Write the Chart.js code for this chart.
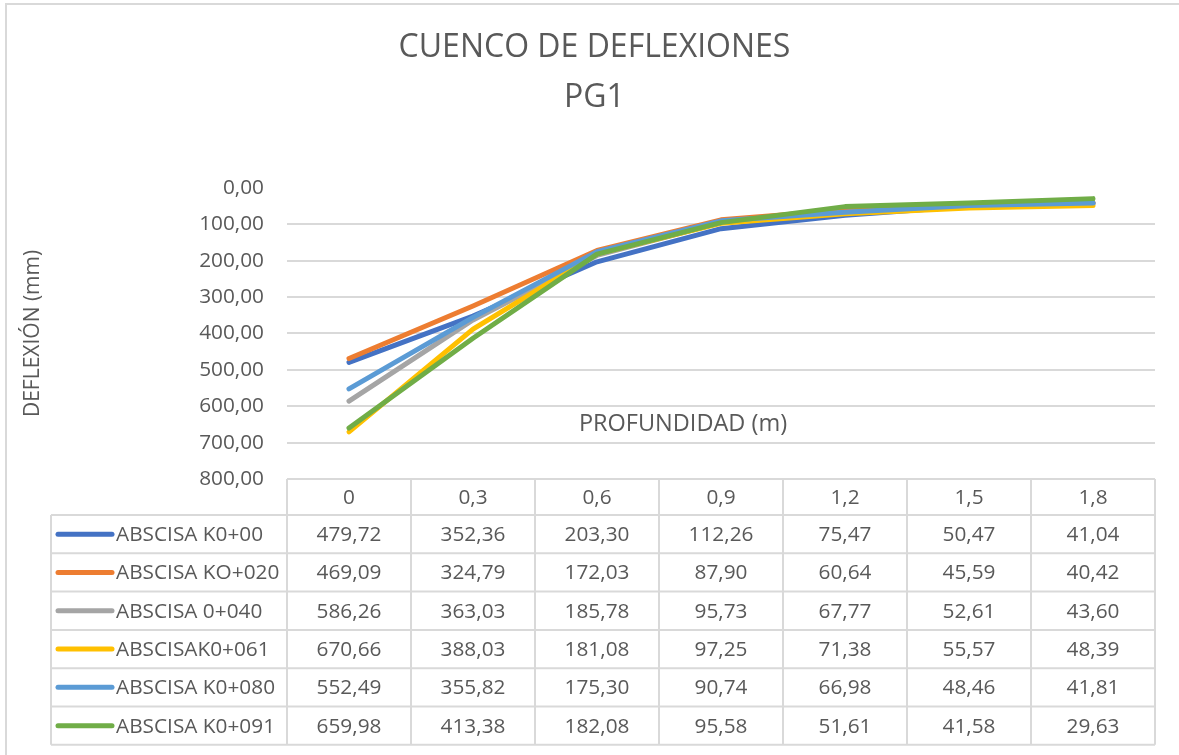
<!DOCTYPE html>
<html>
<head>
<meta charset="utf-8">
<script src="https://cdn.jsdelivr.net/npm/chart.js@4.4.1/dist/chart.umd.min.js"></script>
<style>
  html, body { margin: 0; padding: 0; background: #fff; }
  #wrap { width: 1179px; height: 755px; position: relative; }
</style>
</head>
<body>
<div id="wrap"><canvas id="deflexiones"></canvas></div>
<script>
const profundidades = ['0', '0,3', '0,6', '0,9', '1,2', '1,5', '1,8'];
const nombres = ['ABSCISA K0+00', 'ABSCISA KO+020', 'ABSCISA 0+040', 'ABSCISAK0+061', 'ABSCISA K0+080', 'ABSCISA K0+091'];
const k0_000 = [479.72, 352.36, 203.30, 112.26, 75.47, 50.47, 41.04];
const k0_020 = [469.09, 324.79, 172.03, 87.90, 60.64, 45.59, 40.42];
const k0_040 = [586.26, 363.03, 185.78, 95.73, 67.77, 52.61, 43.60];
const k0_061 = [670.66, 388.03, 181.08, 97.25, 71.38, 55.57, 48.39];
const k0_080 = [552.49, 355.82, 175.30, 90.74, 66.98, 48.46, 41.81];
const k0_091 = [659.98, 413.38, 182.08, 95.58, 51.61, 41.58, 29.63];
const colores = ['#4472C4', '#ED7D31', '#A5A5A5', '#FFC000', '#5B9BD5', '#70AD47'];

const series = [k0_000, k0_020, k0_040, k0_061, k0_080, k0_091];
const FONT = "'Open Sans', sans-serif";
const TEXT = '#595959';
const LINEA = '#d9d9d9';

const fmt = v => v.toFixed(2).replace('.', ',');

// marco exterior del grafico
const borderPlugin = {
    id: 'marco',
    beforeDraw(chart) {
        const { ctx, width, height } = chart;
        ctx.save();
        ctx.fillStyle = '#fff';
        ctx.fillRect(0, 0, width, height);
        ctx.strokeStyle = LINEA;
        ctx.lineWidth = 2;
        ctx.beginPath();
        ctx.moveTo(6, height);
        ctx.lineTo(6, 4);
        ctx.lineTo(width, 4);
        ctx.stroke();
        ctx.restore();
    }
};

// titulo del eje X, Excel lo deja dentro del area de trazado
const xTitlePlugin = {
    id: 'tituloX',
    afterDatasetsDraw(chart) {
        const { ctx, chartArea } = chart;
        ctx.save();
        ctx.font = `23.5px ${FONT}`;
        ctx.fillStyle = TEXT;
        ctx.textAlign = 'center';
        ctx.textBaseline = 'middle';
        ctx.fillText('PROFUNDIDAD (m)', chartArea.left + 396, chartArea.top + 236);
        ctx.restore();
    }
};

// tabla de datos bajo el grafico
const tablePlugin = {
    id: 'tablaDatos',
    afterDraw(chart) {
        const { ctx, chartArea, scales: { x } } = chart;
        const colW = (chartArea.right - chartArea.left) / profundidades.length;
        const top = chartArea.bottom;
        const headerH = 36;
        const rowH = 38.3;
        const legendLeft = 51;
        const bodyTop = top + headerH;
        const bottom = bodyTop + rowH * nombres.length;

        ctx.save();
        ctx.strokeStyle = LINEA;
        ctx.lineWidth = 2;
        ctx.beginPath();
        ctx.moveTo(chartArea.left, top);
        ctx.lineTo(chartArea.right, top);
        for (let r = 0; r <= nombres.length; r++) {
            const y = bodyTop + r * rowH;
            ctx.moveTo(legendLeft, y);
            ctx.lineTo(chartArea.right, y);
        }
        for (let c = 0; c <= profundidades.length; c++) {
            const xx = chartArea.left + c * colW;
            ctx.moveTo(xx, top);
            ctx.lineTo(xx, bottom);
        }
        ctx.moveTo(legendLeft, bodyTop);
        ctx.lineTo(legendLeft, bottom);
        ctx.stroke();

        ctx.font = `20.8px ${FONT}`;
        ctx.fillStyle = TEXT;
        ctx.textBaseline = 'middle';
        ctx.textAlign = 'center';
        profundidades.forEach((p, i) => {
            ctx.fillText(p, x.getPixelForValue(i), top + headerH / 2 + 1);
        });

        series.forEach((vals, r) => {
            const cy = bodyTop + rowH * (r + 0.5) + 1;
            ctx.textAlign = 'center';
            vals.forEach((v, i) => {
                ctx.fillText(fmt(v), x.getPixelForValue(i), cy);
            });
            // muestra de leyenda
            ctx.strokeStyle = colores[r];
            ctx.lineWidth = 5;
            ctx.lineCap = 'round';
            ctx.beginPath();
            ctx.moveTo(58, cy - 1);
            ctx.lineTo(112, cy - 1);
            ctx.stroke();
            ctx.textAlign = 'left';
            ctx.fillText(nombres[r], 116, cy);
        });
        ctx.restore();
    }
};

const ctx = document.getElementById('deflexiones').getContext('2d');
new Chart(ctx, {
    type: 'line',
    data: {
        labels: profundidades,
        datasets: series.map((vals, i) => ({
            label: nombres[i],
            data: vals,
            borderColor: colores[i],
            backgroundColor: colores[i],
            borderWidth: 5,
            borderCapStyle: 'round',
            borderJoinStyle: 'round',
            pointRadius: 0,
            tension: 0,
            order: series.length - 1 - i
        }))
    },
    options: {
        responsive: true,
        maintainAspectRatio: false,
        animation: false,
        layout: {
            padding: { left: 34, right: 24, top: 0, bottom: 276 }
        },
        plugins: {
            legend: { display: false },
            tooltip: { enabled: false },
            title: {
                display: true,
                text: ['CUENCO DE DEFLEXIONES', 'PG1'],
                color: TEXT,
                font: { family: FONT, size: 32, weight: 'normal', lineHeight: 1.56 },
                padding: { top: 23, bottom: 65 }
            }
        },
        scales: {
            x: {
                display: false,
                offset: true
            },
            y: {
                reverse: true,
                min: 0,
                max: 800,
                afterFit(scale) { scale.width = 253; },
                ticks: {
                    stepSize: 100,
                    padding: 23,
                    color: TEXT,
                    font: { family: FONT, size: 20.8 },
                    callback: v => fmt(v)
                },
                grid: {
                    drawTicks: false,
                    lineWidth: 2,
                    color: c => (c.tick.value === 0 || c.tick.value === 800) ? 'rgba(0,0,0,0)' : LINEA
                },
                border: { display: false },
                title: {
                    display: true,
                    text: 'DEFLEXIÓN (mm)',
                    color: TEXT,
                    font: { family: FONT, size: 21 },
                    padding: { top: -13.6, bottom: 0 }
                }
            }
        }
    },
    plugins: [borderPlugin, xTitlePlugin, tablePlugin]
});
</script>
</body>
</html>
